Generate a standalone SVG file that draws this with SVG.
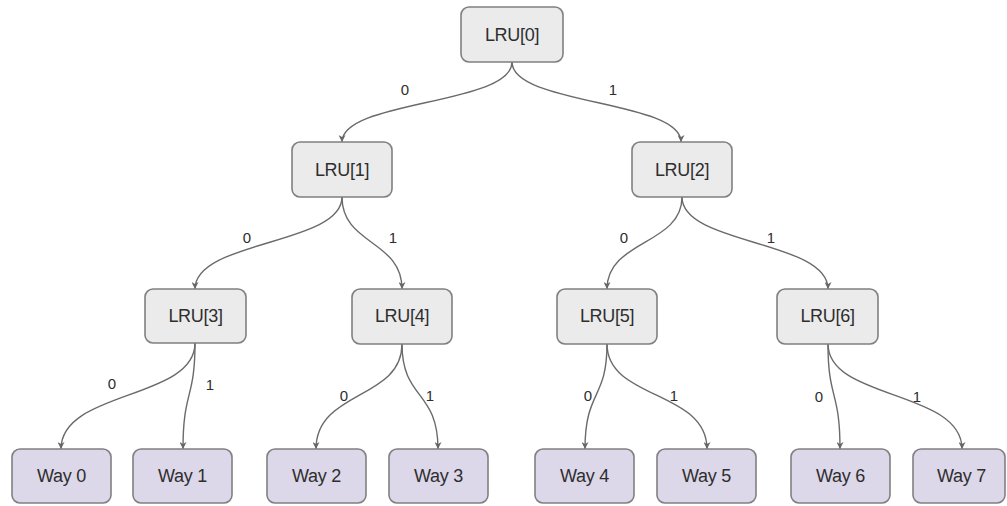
<svg xmlns="http://www.w3.org/2000/svg" width="1007" height="506" viewBox="0 0 1007 506">
  <defs>
    <marker id="arrow" viewBox="0 0 10 10" refX="10" refY="5" markerWidth="7" markerHeight="7" markerUnits="userSpaceOnUse" orient="auto">
      <path d="M0,0 L10,5 L0,10 L3,5 Z" fill="#666666"/>
    </marker>
    <style>
      .lru rect { fill: #ebebeb; stroke: #808080; stroke-width: 1.6; }
      .way rect { fill: #dcd7e9; stroke: #808080; stroke-width: 1.6; }
      .node text { font-family: "Liberation Sans", Arial, sans-serif; font-size: 18px; fill: #2e2e2e; text-anchor: middle; dominant-baseline: central; letter-spacing: -0.3px; }
      .edge { fill: none; stroke: #6a6a6a; stroke-width: 1.4; marker-end: url(#arrow); }
      .lbl { font-family: "Liberation Sans", Arial, sans-serif; font-size: 15px; fill: #2e2e2e; text-anchor: middle; dominant-baseline: central; }
    </style>
  </defs>
  <rect width="1007" height="506" fill="#ffffff"/>

  <!-- connectors: parent bottom centre to child top centre -->
  <g id="connectors">
    <path class="edge" d="M512,62 C512,105 342,100 342,142"/>
    <path class="edge" d="M512,62 C512,105 681,100 681,142"/>

    <path class="edge" d="M342,197 C342,245 195,240 195,289"/>
    <path class="edge" d="M342,197 C342,245 402,240 402,289"/>
    <path class="edge" d="M682,197 C682,245 607,240 607,289"/>
    <path class="edge" d="M682,197 C682,245 828,240 828,289"/>

    <path class="edge" d="M195,343 C195,400 61,390 61,449"/>
    <path class="edge" d="M195,343 C195,400 183,390 183,449"/>
    <path class="edge" d="M402,344 C402,400 316,390 316,449"/>
    <path class="edge" d="M402,344 C402,400 438,390 438,449"/>
    <path class="edge" d="M607,344 C607,400 585,390 585,449"/>
    <path class="edge" d="M607,344 C607,400 707,390 707,449"/>
    <path class="edge" d="M828,344 C828,400 840,390 840,449"/>
    <path class="edge" d="M828,344 C828,400 962,390 962,449"/>

    <text class="lbl" x="405" y="89">0</text>
    <text class="lbl" x="613" y="89">1</text>
    <text class="lbl" x="247" y="237">0</text>
    <text class="lbl" x="393" y="237">1</text>
    <text class="lbl" x="624" y="237">0</text>
    <text class="lbl" x="771" y="237">1</text>
    <text class="lbl" x="112" y="383">0</text>
    <text class="lbl" x="210" y="384">1</text>
    <text class="lbl" x="344" y="395">0</text>
    <text class="lbl" x="430" y="395">1</text>
    <text class="lbl" x="588" y="395">0</text>
    <text class="lbl" x="674" y="395">1</text>
    <text class="lbl" x="819" y="396">0</text>
    <text class="lbl" x="917" y="396">1</text>
  </g>

  <!-- LRU tree bits -->
  <g id="lru0" class="node lru"><rect x="461" y="7" width="102" height="55" rx="8"/><text x="512" y="35">LRU[0]</text></g>
  <g id="lru1" class="node lru"><rect x="292" y="142" width="100" height="55" rx="8"/><text x="342" y="170">LRU[1]</text></g>
  <g id="lru2" class="node lru"><rect x="632" y="142" width="100" height="55" rx="8"/><text x="682" y="170">LRU[2]</text></g>
  <g id="lru3" class="node lru"><rect x="145" y="289" width="101" height="54" rx="8"/><text x="195.5" y="316">LRU[3]</text></g>
  <g id="lru4" class="node lru"><rect x="352" y="289" width="100" height="55" rx="8"/><text x="402" y="316">LRU[4]</text></g>
  <g id="lru5" class="node lru"><rect x="557" y="289" width="100" height="55" rx="8"/><text x="607" y="316">LRU[5]</text></g>
  <g id="lru6" class="node lru"><rect x="777" y="289" width="101" height="55" rx="8"/><text x="827.5" y="316">LRU[6]</text></g>

  <!-- cache ways -->
  <g id="way0" class="node way"><rect x="12" y="449" width="99" height="54" rx="8"/><text x="61.5" y="476">Way 0</text></g>
  <g id="way1" class="node way"><rect x="133" y="449" width="99" height="54" rx="8"/><text x="182.5" y="476">Way 1</text></g>
  <g id="way2" class="node way"><rect x="267" y="449" width="99" height="54" rx="8"/><text x="316.5" y="476">Way 2</text></g>
  <g id="way3" class="node way"><rect x="389" y="449" width="99" height="54" rx="8"/><text x="438.5" y="476">Way 3</text></g>
  <g id="way4" class="node way"><rect x="535" y="449" width="99" height="54" rx="8"/><text x="584.5" y="476">Way 4</text></g>
  <g id="way5" class="node way"><rect x="657" y="449" width="99" height="54" rx="8"/><text x="706.5" y="476">Way 5</text></g>
  <g id="way6" class="node way"><rect x="791" y="449" width="99" height="54" rx="8"/><text x="840.5" y="476">Way 6</text></g>
  <g id="way7" class="node way"><rect x="913" y="449" width="92" height="54" rx="8"/><text x="961.5" y="476">Way 7</text></g>
</svg>
